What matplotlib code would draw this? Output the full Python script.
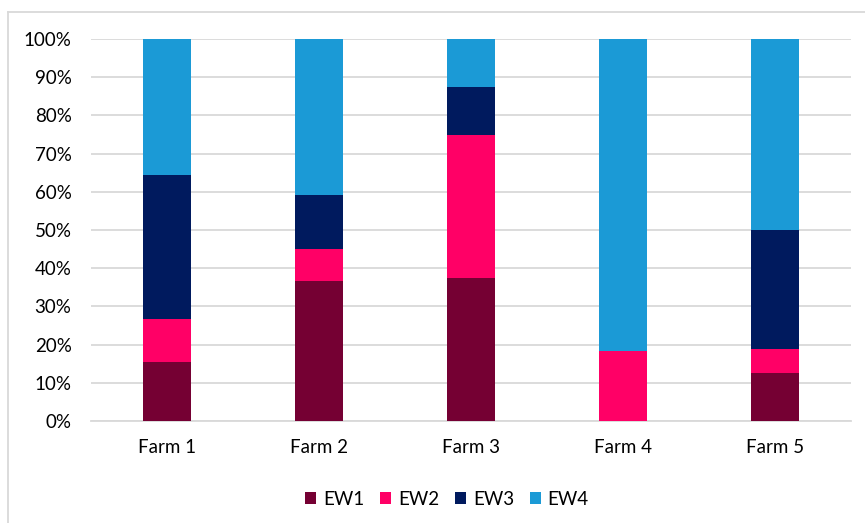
import numpy as np
import matplotlib.pyplot as plt
from matplotlib.lines import Line2D

farms = ['Farm 1', 'Farm 2', 'Farm 3', 'Farm 4', 'Farm 5']
series = ['EW1', 'EW2', 'EW3', 'EW4']
ew1 = [15.4, 36.6, 37.5, 0.0, 12.5]
ew2 = [11.3, 8.4, 37.5, 18.2, 6.25]
ew3 = [37.7, 14.2, 12.5, 0.0, 31.25]
ew4 = [35.6, 40.8, 12.5, 81.8, 50.0]
colors = ['#750033', '#FF0066', '#001A5E', '#1B9AD6']

plt.rcParams['font.family'] = ['Lato', 'DejaVu Sans']

fig = plt.figure(figsize=(8.65, 5.23), dpi=100)
ax = fig.add_axes([91 / 865, 1 - 421 / 523, 760 / 865, 382 / 523])

x = np.arange(len(farms))
bottom = np.zeros(len(farms))
for name, vals, c in zip(series, [ew1, ew2, ew3, ew4], colors):
    ax.bar(x, vals, 0.31, bottom=bottom, color=c, label=name, zorder=3)
    bottom += np.array(vals)

ax.set_xlim(-0.5, len(farms) - 0.5)
ax.set_ylim(0, 100)
ax.set_yticks(np.arange(0, 101, 10))
ax.set_yticklabels([f'{v}%' for v in range(0, 101, 10)])
ax.set_xticks(x)
ax.set_xticklabels(farms)
ax.yaxis.grid(True, color='#d9d9d9', linewidth=1.3, zorder=0)
ax.tick_params(length=0, labelsize=13.5, colors='#000000')
ax.tick_params(axis='x', pad=13)
ax.tick_params(axis='y', pad=14)
for s in ['top', 'right', 'left']:
    ax.spines[s].set_visible(False)
ax.spines['bottom'].set_color('#d9d9d9')
ax.spines['bottom'].set_linewidth(1.3)

fig.legend(loc='upper center', bbox_to_anchor=(447 / 865, 1 - 474 / 523), ncol=4,
           frameon=False, fontsize=13.5, handlelength=0.6, handleheight=0.6,
           handletextpad=0.35, columnspacing=0.85)

# outer chart frame (top and left edges visible)
fig.add_artist(Line2D([8 / 865, 8 / 865], [0, 1 - 12 / 523], color='#d9d9d9', lw=1.3))
fig.add_artist(Line2D([8 / 865, 1], [1 - 12 / 523, 1 - 12 / 523], color='#d9d9d9', lw=1.3))

fig.savefig('out.png', dpi=100)
